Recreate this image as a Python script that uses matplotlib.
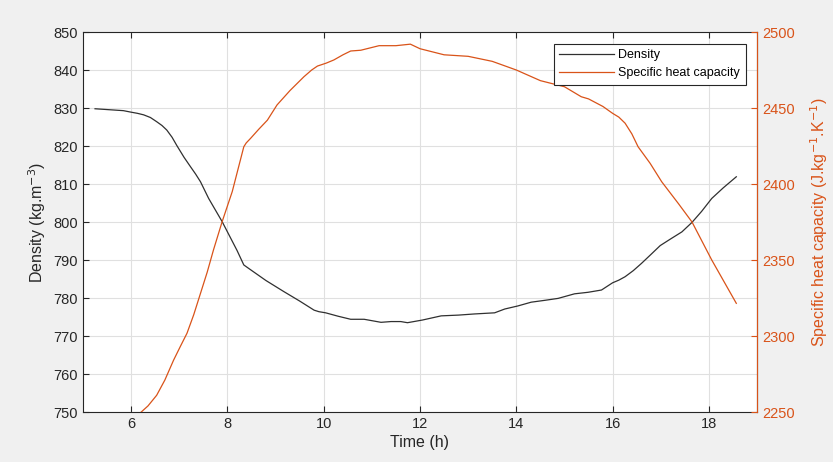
import matplotlib
matplotlib.use("Agg")
import matplotlib.pyplot as plt

# Density (kg/m3)
dens_t = [5.25, 5.84, 6.0, 6.13, 6.26, 6.4, 6.53, 6.64, 6.74, 6.85, 6.95, 7.1, 7.23, 7.34, 7.44,
          7.61, 7.89, 8.2, 8.34, 8.44, 8.8, 9.17, 9.5, 9.8, 9.9, 10.04, 10.3, 10.56, 10.84,
          11.19, 11.4, 11.6, 11.74, 12.05, 12.44, 12.8, 13.13, 13.55, 13.76, 14.03, 14.31,
          14.6, 14.87, 15.21, 15.49, 15.77, 16.0, 16.13, 16.26, 16.43, 16.6, 16.8, 16.99, 17.2,
          17.44, 17.65, 17.85, 18.06, 18.3, 18.57]
dens_v = [829.8, 829.3, 828.9, 828.6, 828.2, 827.5, 826.4, 825.4, 824.2, 822.3, 820.1, 817.0, 814.6, 812.6, 810.6,
          806.2, 800.1, 792.5, 788.7, 787.8, 784.6, 781.7, 779.2, 776.8, 776.4, 776.1, 775.2, 774.4, 774.4,
          773.6, 773.8, 773.8, 773.5, 774.2, 775.3, 775.5, 775.8, 776.1, 777.1, 777.9, 778.9,
          779.4, 779.9, 781.1, 781.5, 782.1, 784.0, 784.7, 785.6, 787.2, 789.1, 791.5, 793.8, 795.5,
          797.4, 799.9, 802.8, 806.2, 809.0, 811.9]

# Specific heat capacity (J/kg/K)
cp_t = [6.21, 6.35, 6.53, 6.7, 6.88, 7.02, 7.16, 7.3, 7.44, 7.58, 7.71, 7.89, 8.1, 8.34, 8.39,
        8.48, 8.65, 8.83, 9.03, 9.3, 9.59, 9.75, 9.87, 10.05, 10.21, 10.4, 10.56, 10.77, 11.15,
        11.5, 11.8, 12.0, 12.5, 13.0, 13.5, 14.0, 14.5, 15.0, 15.35, 15.5, 15.8, 16.0, 16.13,
        16.26, 16.4, 16.53, 16.78, 17.02, 17.37, 17.65, 18.06, 18.57]
cp_v = [2250, 2254, 2261, 2271, 2284, 2293, 2301.8, 2314, 2328, 2342, 2356.6, 2375.2, 2395, 2424.5, 2427,
        2430, 2436, 2442, 2452, 2461.5, 2470.6, 2475, 2477.6, 2479.5, 2481.6, 2485, 2487.5, 2488, 2491,
        2491, 2492, 2489, 2485, 2484, 2480.7, 2475, 2468, 2464, 2457.4, 2456, 2451, 2446.5, 2444,
        2440, 2433, 2424.5, 2413.6, 2401.5, 2387, 2375, 2350, 2321.5]

x_ticks = [6, 8, 10, 12, 14, 16, 18]
dens_ticks = [750, 760, 770, 780, 790, 800, 810, 820, 830, 840, 850]
cp_ticks = [2250, 2300, 2350, 2400, 2450, 2500]

plt.rcParams['font.family'] = ['Liberation Sans', 'DejaVu Sans']

ORANGE = '#D95319'
DARK = '#262626'

fig = plt.figure(figsize=(8.33, 4.62), dpi=100, facecolor='#f0f0f0')
ax = fig.add_axes([83/833, 50/462, (757-83)/833, (412-32)/462])
ax.set_facecolor('white')

l1, = ax.plot(dens_t, dens_v, color='#303030', lw=0.9, label='Density')
ax.set_xlim(5, 19)
ax.set_ylim(750, 850)
ax.set_xticks(x_ticks)
ax.set_yticks(dens_ticks)
ax.grid(True, color='#e0e0e0', lw=0.8)
ax.set_axisbelow(True)
ax.tick_params(direction='in', length=4, width=0.8, colors=DARK, labelsize=10.5, top=True)
for s in ['left', 'top', 'bottom']:
    ax.spines[s].set_color(DARK)
    ax.spines[s].set_linewidth(0.8)
ax.set_xlabel('Time (h)', fontsize=11.5, color=DARK, labelpad=3)
ax.set_ylabel('Density (kg.m$^{-3}$)', fontsize=11.5, color=DARK, labelpad=4)

ax2 = ax.twinx()
l2, = ax2.plot(cp_t, cp_v, color=ORANGE, lw=0.9, label='Specific heat capacity')
ax2.set_ylim(2250, 2500)
ax2.set_yticks(cp_ticks)
ax2.tick_params(direction='in', length=4, width=0.8, colors=ORANGE, labelsize=10.5)
ax2.spines['right'].set_color(ORANGE)
ax2.spines['right'].set_linewidth(0.8)
for s in ['left', 'top', 'bottom']:
    ax2.spines[s].set_visible(False)
ax2.set_ylabel('Specific heat capacity (J.kg$^{-1}$.K$^{-1}$)', fontsize=11.5, color=ORANGE, labelpad=10)

leg = ax2.legend([l1, l2], ['Density', 'Specific heat capacity'], loc='upper right',
                 bbox_to_anchor=(0.983, 0.969), fontsize=9, fancybox=False, framealpha=1,
                 edgecolor=DARK, handlelength=4.4, handletextpad=0.3, borderpad=0.45,
                 labelspacing=0.45, borderaxespad=0)
leg.get_frame().set_linewidth(0.8)

fig.savefig('out.png', dpi=100, facecolor=fig.get_facecolor())
